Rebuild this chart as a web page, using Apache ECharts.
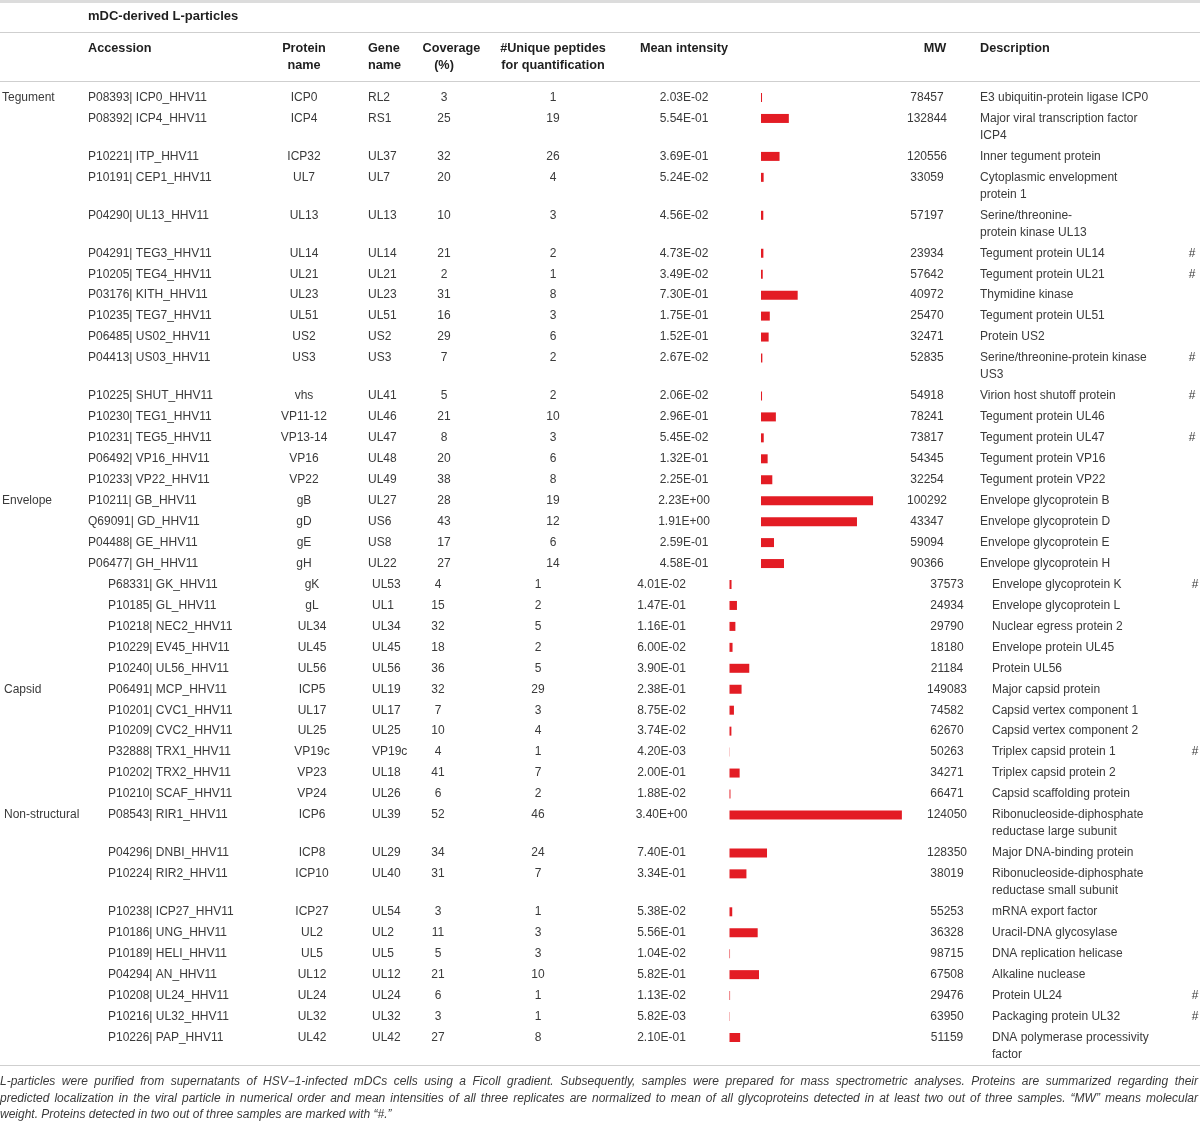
<!DOCTYPE html>
<html><head><meta charset="utf-8">
<script src="https://cdn.jsdelivr.net/npm/echarts/dist/echarts.min.js"></script>
<style>html,body{margin:0;padding:0;background:#fff}#c{width:1200px;height:1125px}</style>
</head><body><div id="c"></div>
<script>
// ---------------- data ----------------
const tableTitle = 'mDC-derived L-particles';
const locationGroups = [['Tegument', 0], ['Envelope', 16], ['Capsid', 25], ['Non-structural', 31]];
const accession = [
  'P08393| ICP0_HHV11','P08392| ICP4_HHV11','P10221| ITP_HHV11','P10191| CEP1_HHV11','P04290| UL13_HHV11',
  'P04291| TEG3_HHV11','P10205| TEG4_HHV11','P03176| KITH_HHV11','P10235| TEG7_HHV11','P06485| US02_HHV11',
  'P04413| US03_HHV11','P10225| SHUT_HHV11','P10230| TEG1_HHV11','P10231| TEG5_HHV11','P06492| VP16_HHV11',
  'P10233| VP22_HHV11','P10211| GB_HHV11','Q69091| GD_HHV11','P04488| GE_HHV11','P06477| GH_HHV11',
  'P68331| GK_HHV11','P10185| GL_HHV11','P10218| NEC2_HHV11','P10229| EV45_HHV11','P10240| UL56_HHV11',
  'P06491| MCP_HHV11','P10201| CVC1_HHV11','P10209| CVC2_HHV11','P32888| TRX1_HHV11','P10202| TRX2_HHV11',
  'P10210| SCAF_HHV11','P08543| RIR1_HHV11','P04296| DNBI_HHV11','P10224| RIR2_HHV11','P10238| ICP27_HHV11',
  'P10186| UNG_HHV11','P10189| HELI_HHV11','P04294| AN_HHV11','P10208| UL24_HHV11','P10216| UL32_HHV11',
  'P10226| PAP_HHV11'];
const proteinName = ['ICP0','ICP4','ICP32','UL7','UL13','UL14','UL21','UL23','UL51','US2','US3','vhs','VP11-12',
  'VP13-14','VP16','VP22','gB','gD','gE','gH','gK','gL','UL34','UL45','UL56','ICP5','UL17','UL25','VP19c','VP23',
  'VP24','ICP6','ICP8','ICP10','ICP27','UL2','UL5','UL12','UL24','UL32','UL42'];
const geneName = ['RL2','RS1','UL37','UL7','UL13','UL14','UL21','UL23','UL51','US2','US3','UL41','UL46','UL47',
  'UL48','UL49','UL27','US6','US8','UL22','UL53','UL1','UL34','UL45','UL56','UL19','UL17','UL25','VP19c','UL18',
  'UL26','UL39','UL29','UL40','UL54','UL2','UL5','UL12','UL24','UL32','UL42'];
const coverage = [3,25,32,20,10,21,2,31,16,29,7,5,21,8,20,38,28,43,17,27,4,15,32,18,36,32,7,10,4,41,6,52,34,31,3,11,5,21,6,3,27];
const uniquePeptides = [1,19,26,4,3,2,1,8,3,6,2,2,10,3,6,8,19,12,6,14,1,2,5,2,5,29,3,4,1,7,2,46,24,7,1,3,3,10,1,1,8];
const meanIntensityText = ['2.03E-02','5.54E-01','3.69E-01','5.24E-02','4.56E-02','4.73E-02','3.49E-02','7.30E-01',
  '1.75E-01','1.52E-01','2.67E-02','2.06E-02','2.96E-01','5.45E-02','1.32E-01','2.25E-01','2.23E+00','1.91E+00',
  '2.59E-01','4.58E-01','4.01E-02','1.47E-01','1.16E-01','6.00E-02','3.90E-01','2.38E-01','8.75E-02','3.74E-02',
  '4.20E-03','2.00E-01','1.88E-02','3.40E+00','7.40E-01','3.34E-01','5.38E-02','5.56E-01','1.04E-02','5.82E-01',
  '1.13E-02','5.82E-03','2.10E-01'];
const meanIntensity = meanIntensityText.map(Number);
const molecularWeight = [78457,132844,120556,33059,57197,23934,57642,40972,25470,32471,52835,54918,78241,73817,54345,
  32254,100292,43347,59094,90366,37573,24934,29790,18180,21184,149083,74582,62670,50263,34271,66471,124050,128350,
  38019,55253,36328,98715,67508,29476,63950,51159];
const description = ['E3 ubiquitin-protein ligase ICP0','Major viral transcription factor\nICP4','Inner tegument protein',
  'Cytoplasmic envelopment\nprotein 1','Serine/threonine-\nprotein kinase UL13','Tegument protein UL14',
  'Tegument protein UL21','Thymidine kinase','Tegument protein UL51','Protein US2',
  'Serine/threonine-protein kinase\nUS3','Virion host shutoff protein','Tegument protein UL46','Tegument protein UL47',
  'Tegument protein VP16','Tegument protein VP22','Envelope glycoprotein B','Envelope glycoprotein D',
  'Envelope glycoprotein E','Envelope glycoprotein H','Envelope glycoprotein K','Envelope glycoprotein L',
  'Nuclear egress protein 2','Envelope protein UL45','Protein UL56','Major capsid protein','Capsid vertex component 1',
  'Capsid vertex component 2','Triplex capsid protein 1','Triplex capsid protein 2','Capsid scaffolding protein',
  'Ribonucleoside-diphosphate\nreductase large subunit','Major DNA-binding protein',
  'Ribonucleoside-diphosphate\nreductase small subunit','mRNA export factor','Uracil-DNA glycosylase',
  'DNA replication helicase','Alkaline nuclease','Protein UL24','Packaging protein UL32',
  'DNA polymerase processivity\nfactor'];
const markedTwoOfThree = [5,6,10,11,13,20,28,38,39];
const footnoteLines = [
  'L-particles were purified from supernatants of HSV\u22121-infected mDCs cells using a Ficoll gradient. Subsequently, samples were prepared for mass spectrometric analyses. Proteins are summarized regarding their',
  'predicted localization in the viral particle in numerical order and mean intensities of all three replicates are normalized to mean of all glycoproteins detected in at least two out of three samples. \u201cMW\u201d means molecular',
  'weight. Proteins detected in two out of three samples are marked with \u201c#.\u201d'];

// ---------------- layout ----------------
const W = 1200, H = 1125;
const FF = '"Liberation Sans", Arial, Helvetica, sans-serif';
const bodyFont = '12px ' + FF, headFont = 'bold 12.7px ' + FF, titleFont = 'bold 13px ' + FF;
const footFont = 'italic 12px ' + FF;
const bodyColor = '#3a3a3a', headColor = '#1f1f1f', ruleColor = '#cfcfcf', barColor = '#e31c24';
const firstRowY = 97.5, rowPitch = 20.95, wrapLine = 17, pageBreak = 20;
const layoutA = {cat:2, acc:88, prot:304, gene:368, cov:444, uniq:553, mean:684, mw:927, desc:980, mark:1192, bar:761, unit:50.25};
const layoutB = {cat:4, acc:108, prot:312, gene:372, cov:438, uniq:538, mean:661.5, mw:947, desc:992, mark:1195, bar:729.5, unit:50.7};

const rowY = [];
{ let y = firstRowY;
  for (let i = 0; i < accession.length; i++) { rowY.push(y); y += rowPitch + (description[i].split('\n').length - 1) * wrapLine; } }
const catAt = {}; locationGroups.forEach(g => { catAt[g[1]] = g[0]; });

function txt(text, x, y, align, font, fill) {
  return {type:'text', style:{text:String(text), x:x, y:y, align:align, textAlign:align, verticalAlign:'middle', textVerticalAlign:'middle', font:font || bodyFont, fill:fill || bodyColor}};
}

function renderRow(params, api) {
  const i = params.dataIndex;
  const L = i < pageBreak ? layoutA : layoutB;
  const y = api.coord([0, api.value(1)])[1];
  const X = v => api.coord([v, 0])[0];
  const ch = [];
  if (catAt[i]) ch.push(txt(catAt[i], X(L.cat), y, 'left'));
  ch.push(txt(accession[i], X(L.acc), y, 'left'));
  ch.push(txt(proteinName[i], X(L.prot), y, 'center'));
  ch.push(txt(geneName[i], X(L.gene), y, 'left'));
  ch.push(txt(coverage[i], X(L.cov), y, 'center'));
  ch.push(txt(uniquePeptides[i], X(L.uniq), y, 'center'));
  ch.push(txt(meanIntensityText[i], X(L.mean), y, 'center'));
  ch.push(txt(molecularWeight[i], X(L.mw), y, 'center'));
  description[i].split('\n').forEach((line, k) => ch.push(txt(line, X(L.desc), y + k * wrapLine, 'left')));
  if (markedTwoOfThree.indexOf(i) >= 0) ch.push(txt('#', X(L.mark), y, 'center'));
  return {type:'group', children:ch};
}

function renderBar(params, api) {
  const p0 = api.coord([0, api.value(1)]);
  const p1 = api.coord([api.value(0), api.value(1)]);
  return {type:'rect', shape:{x:p0[0], y:p0[1] - 4.5, width:p1[0] - p0[0], height:9}, style:{fill:barColor}};
}

// header / rules / footnote graphics
const graphics = [];
graphics.push({type:'rect', shape:{x:0, y:0, width:W, height:3}, style:{fill:'#dcdcdc'}, silent:true});
[32, 81, 1065].forEach(yy => graphics.push({type:'line', shape:{x1:0, y1:yy + 0.5, x2:W, y2:yy + 0.5}, style:{stroke:ruleColor, lineWidth:1}, silent:true}));
function gtxt(text, x, y, align, font, fill) {
  return {type:'text', x:0, y:0, silent:true, style:{text:text, x:x, y:y, align:align, textAlign:align, verticalAlign:'middle', textVerticalAlign:'middle', font:font, fill:fill}};
}
graphics.push(gtxt(tableTitle, 88, 16.5, 'left', titleFont, headColor));
const headers = [
  ['Accession', '', 88, 'left'], ['Protein', 'name', 304, 'center'], ['Gene', 'name', 368, 'left'],
  ['Coverage', '', 451.5, 'center'], ['', '(%)', 444, 'center'], ['#Unique peptides', 'for quantification', 553, 'center'],
  ['Mean intensity', '', 684, 'center'], ['MW', '', 935, 'center'], ['Description', '', 980, 'left']];
headers.forEach(h => {
  if (h[0]) graphics.push(gtxt(h[0], h[2], 48, h[3], headFont, headColor));
  if (h[1]) graphics.push(gtxt(h[1], h[2], 65, h[3], headFont, headColor));
});
// justified italic footnote
const mctx = document.createElement('canvas').getContext('2d');
mctx.font = footFont;
const footY = [1082, 1098.5, 1115], footWidth = 1198;
footnoteLines.forEach((line, li) => {
  const words = line.split(' ');
  const ws = words.map(w => mctx.measureText(w).width);
  const total = ws.reduce((a, b) => a + b, 0);
  const last = li === footnoteLines.length - 1;
  const gap = last ? mctx.measureText(' ').width : (footWidth - total) / (words.length - 1);
  let x = 0;
  words.forEach((w, k) => { graphics.push(gtxt(w, x, footY[li], 'left', footFont, bodyColor)); x += ws[k] + gap; });
});

const rowData = rowY.map(y => [0, y]);
const barsA = [], barsB = [];
meanIntensity.forEach((v, i) => (i < pageBreak ? barsA : barsB).push([v, rowY[i]]));

const chart = echarts.init(document.getElementById('c'), null, {renderer:'canvas'});
chart.setOption({
  animation:false,
  grid:[
    {left:0, top:0, width:W, height:H},
    {left:layoutA.bar, top:0, width:layoutA.unit * 4, height:H},
    {left:layoutB.bar, top:0, width:layoutB.unit * 4, height:H}
  ],
  xAxis:[
    {type:'value', gridIndex:0, min:0, max:W, show:false},
    {type:'value', gridIndex:1, min:0, max:4, show:false},
    {type:'value', gridIndex:2, min:0, max:4, show:false}
  ],
  yAxis:[
    {type:'value', gridIndex:0, min:0, max:H, inverse:true, show:false},
    {type:'value', gridIndex:1, min:0, max:H, inverse:true, show:false},
    {type:'value', gridIndex:2, min:0, max:H, inverse:true, show:false}
  ],
  series:[
    {type:'custom', name:'rows', xAxisIndex:0, yAxisIndex:0, data:rowData, renderItem:renderRow, clip:false, silent:true},
    {type:'custom', name:'Mean intensity (part 1)', xAxisIndex:1, yAxisIndex:1, data:barsA, renderItem:renderBar, clip:false},
    {type:'custom', name:'Mean intensity (part 2)', xAxisIndex:2, yAxisIndex:2, data:barsB, renderItem:renderBar, clip:false}
  ],
  graphic:graphics
});
</script></body></html>
